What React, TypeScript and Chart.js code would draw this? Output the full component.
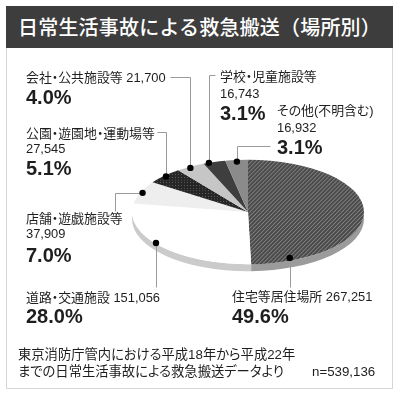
import React, { useEffect, useRef } from 'react';
import { Chart, registerables } from 'chart.js';

Chart.register(...registerables);

// ---- data ----
const categories = [
  '住宅等居住場所',
  '道路・交通施設',
  '店舗・遊戯施設等',
  '公園・遊園地・運動場等',
  '会社・公共施設等',
  '学校・児童施設等',
  'その他(不明含む)',
];
const counts = [267251, 151056, 37909, 27545, 21700, 16743, 16932];
const countLabels = ['267,251', '151,056', '37,909', '27,545', '21,700', '16,743', '16,932'];
const percentLabels = ['49.6%', '28.0%', '7.0%', '5.1%', '4.0%', '3.1%', '3.1%'];
const titleText = '日常生活事故による救急搬送（場所別）';
const footerLines = ['東京消防庁管内における平成18年から平成22年', 'までの日常生活事故による救急搬送データより'];
const totalLabel = 'n=539,136';

// ---- styles / layout ----
const K = 0.45; // vertical tilt
const T = 7; // thickness
const FONT = '"Liberation Sans", "Noto Sans CJK JP", sans-serif';
const sideColors = ['#9b9b9b', '#cbcbcb', '#d0d0d0', '#222222', '#aaaaaa', '#222222', '#777777'];
type Seg = ['v' | 'h', number];
const leaderLayout: { af: number; rf: number; path: Seg[] }[] = [
  { af: 0.884, rf: 0.95, path: [['v', 287]] },
  { af: 0.543, rf: 0.99, path: [['v', 287]] },
  { af: 0.5, rf: 0.98, path: [['h', 115], ['v', 211]] },
  { af: 0.5, rf: 0.98, path: [['v', 132], ['h', 157]] },
  { af: 0.45, rf: 0.98, path: [['v', 77], ['h', 170]] },
  { af: 0.25, rf: 1.0, path: [['v', 75], ['h', 215]] },
  { af: 0.5, rf: 0.97, path: [['v', 146], ['h', 270]] },
];

function makeHatch(): CanvasPattern | string {
  const c = document.createElement('canvas');
  c.width = 4;
  c.height = 9;
  const g = c.getContext('2d');
  if (!g) return '#555';
  g.fillStyle = '#4b4b4b';
  g.fillRect(0, 0, 4, 9);
  g.strokeStyle = '#858585';
  g.lineWidth = 1.1;
  for (const ox of [-4, 0, 4]) {
    g.beginPath();
    g.moveTo(ox, 9);
    g.lineTo(ox + 4, 0);
    g.stroke();
  }
  return g.createPattern(c, 'repeat') || '#555';
}

function makeDots(): CanvasPattern | string {
  const c = document.createElement('canvas');
  c.width = 3;
  c.height = 6;
  const g = c.getContext('2d');
  if (!g) return '#2a2a2a';
  g.fillStyle = '#262626';
  g.fillRect(0, 0, 3, 6);
  g.fillStyle = '#5c5c5c';
  g.fillRect(1, 2, 1, 2);
  return g.createPattern(c, 'repeat') || '#2a2a2a';
}

const tiltPlugin = {
  id: 'tilt',
  beforeDatasetsDraw(chart: any) {
    const ctx = chart.ctx as CanvasRenderingContext2D;
    const arcs = chart.getDatasetMeta(0).data as any[];
    if (!arcs.length) return;
    const cx = arcs[0].x;
    const cy = arcs[0].y;
    arcs.forEach((arc, i) => {
      const r = arc.outerRadius;
      const s = Math.max(arc.startAngle, 0);
      const e = Math.min(arc.endAngle, Math.PI);
      if (e <= s) return;
      ctx.save();
      ctx.beginPath();
      ctx.ellipse(cx, cy, r, r * K, 0, s, e, false);
      ctx.ellipse(cx, cy + T, r, r * K, 0, e, s, true);
      ctx.closePath();
      ctx.fillStyle = sideColors[i];
      ctx.fill();
      ctx.restore();
    });
    ctx.save();
    ctx.translate(cx, cy);
    ctx.scale(1, K);
    ctx.translate(-cx, -cy);
  },
  afterDatasetsDraw(chart: any) {
    chart.ctx.restore();
  },
  afterDraw(chart: any) {
    const ctx = chart.ctx as CanvasRenderingContext2D;
    const arcs = chart.getDatasetMeta(0).data as any[];
    const pts: { x: number; y: number }[] = [];
    ctx.save();
    ctx.strokeStyle = '#9a9a9a';
    ctx.lineWidth = 1;
    arcs.forEach((arc, i) => {
      const L = leaderLayout[i];
      const a = arc.startAngle + (arc.endAngle - arc.startAngle) * L.af;
      const r = arc.outerRadius * L.rf;
      const x = arc.x + r * Math.cos(a);
      const y = arc.y + r * K * Math.sin(a);
      pts.push({ x, y });
      let px = Math.round(x) + 0.5;
      let py = Math.round(y) + 0.5;
      ctx.beginPath();
      ctx.moveTo(px, py);
      for (const [d, v] of L.path) {
        if (d === 'v') py = v + 0.5;
        else px = v + 0.5;
        ctx.lineTo(px, py);
      }
      ctx.stroke();
    });
    ctx.fillStyle = '#000';
    pts.forEach((p) => {
      ctx.beginPath();
      ctx.arc(p.x, p.y, 3.2, 0, Math.PI * 2);
      ctx.fill();
    });
    ctx.restore();
  },
};

function Txt(props: { x: number; y: number; size: number; bold?: boolean; children: React.ReactNode }) {
  const lh = Math.round(props.size * 1.2);
  return (
    <div
      style={{
        position: 'absolute',
        left: props.x,
        top: props.y - lh / 2,
        fontSize: props.size,
        lineHeight: lh + 'px',
        fontWeight: props.bold ? 700 : 400,
        whiteSpace: 'nowrap',
        color: '#1e1e1e',
        fontFamily: FONT,
        fontFeatureSettings: '"palt"',
      }}
    >
      {props.children}
    </div>
  );
}

export default function App() {
  const ref = useRef<HTMLCanvasElement>(null);
  useEffect(() => {
    if (!ref.current) return;
    const colors = [makeHatch(), '#ffffff', '#eeeeee', makeDots(), '#c6c6c6', '#3e3e3e', '#8b8b8b'];
    const chart = new Chart(ref.current, {
      type: 'pie',
      data: {
        labels: categories,
        datasets: [{ data: counts, backgroundColor: colors as any, borderWidth: 0, hoverOffset: 0 }],
      },
      options: {
        responsive: false,
        animation: false,
        events: [],
        layout: { padding: { left: 132, right: 36, top: 96, bottom: 69 } },
        plugins: { legend: { display: false }, tooltip: { enabled: false } },
      },
      plugins: [tiltPlugin],
    });
    return () => chart.destroy();
  }, []);

  const S = 12.9;
  const P = 20;
  const F = 13.3;
  return (
    <div style={{ position: 'absolute', left: 0, top: 0, width: 400, height: 397, background: '#fff', overflow: 'hidden' }}>
      <div
        style={{
          position: 'absolute',
          left: 6,
          top: 6,
          width: 387,
          height: 383,
          border: '1px solid #d6d6d6',
          boxSizing: 'border-box',
        }}
      />
      <div
        style={{
          position: 'absolute',
          left: 6,
          top: 6,
          width: 387,
          height: 42,
          background: '#3d3d3d',
          color: '#fff',
          fontFamily: '"Noto Sans CJK JP", sans-serif',
          fontWeight: 500,
          fontSize: 20,
          lineHeight: '42px',
          textAlign: 'center',
          letterSpacing: 0.2,
          whiteSpace: 'nowrap',
        }}
      >
        {titleText}
      </div>
      <canvas ref={ref} width={400} height={397} style={{ position: 'absolute', left: 0, top: 0, width: 400, height: 397 }} />

      <Txt x={26} y={77} size={S}>{categories[4]} {countLabels[4]}</Txt>
      <Txt x={26} y={97} size={P} bold>{percentLabels[4]}</Txt>

      <Txt x={26} y={133} size={S}>{categories[3]}</Txt>
      <Txt x={26} y={148} size={S}>{countLabels[3]}</Txt>
      <Txt x={26} y={168} size={P} bold>{percentLabels[3]}</Txt>

      <Txt x={26} y={218} size={S}>{categories[2]}</Txt>
      <Txt x={26} y={233} size={S}>{countLabels[2]}</Txt>
      <Txt x={26} y={255} size={P} bold>{percentLabels[2]}</Txt>

      <Txt x={26} y={297} size={S}>{categories[1]} {countLabels[1]}</Txt>
      <Txt x={26} y={316} size={P} bold>{percentLabels[1]}</Txt>

      <Txt x={220} y={76} size={S}>{categories[5]}</Txt>
      <Txt x={220} y={93} size={S}>{countLabels[5]}</Txt>
      <Txt x={220} y={113} size={P} bold>{percentLabels[5]}</Txt>

      <Txt x={277} y={110} size={S}>{categories[6]}</Txt>
      <Txt x={277} y={127} size={S}>{countLabels[6]}</Txt>
      <Txt x={277} y={147} size={P} bold>{percentLabels[6]}</Txt>

      <Txt x={232} y={296} size={S}>{categories[0]} {countLabels[0]}</Txt>
      <Txt x={232} y={316} size={P} bold>{percentLabels[0]}</Txt>

      <Txt x={18} y={355} size={F}>{footerLines[0]}</Txt>
      <Txt x={18} y={372} size={F}>{footerLines[1]}</Txt>
      <Txt x={312} y={372} size={F}>{totalLabel}</Txt>
    </div>
  );
}
